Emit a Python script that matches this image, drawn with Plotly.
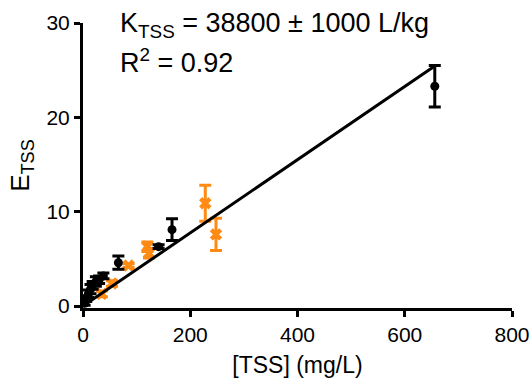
import plotly.graph_objects as go

# Black series (circles)
black_x = [3, 6, 10, 14, 18, 24, 30, 38, 66, 141, 166, 656]
black_y = [0.3, 0.8, 1.3, 1.8, 2.2, 2.6, 2.8, 3.2, 4.6, 6.3, 8.1, 23.3]
black_err = [0.2, 0.3, 0.4, 0.5, 0.4, 0.5, 0.4, 0.3, 0.7, 0.2, 1.15, 2.2]

# Orange series (crosses)
orange_x = [35, 54, 85, 120, 123, 228, 248]
orange_y = [1.3, 2.4, 4.3, 6.3, 5.6, 10.9, 7.6]
orange_err = [0.3, 0.3, 0.2, 0.5, 0.5, 1.9, 1.7]

# Linear fit through origin
slope = 0.0388
fit_x = [0, 656]
fit_y = [slope * v for v in fit_x]

x_ticks = [0, 200, 400, 600, 800]
y_ticks = [0, 10, 20, 30]

ORANGE = "#FF8A14"
FONT = "Liberation Sans, Arial, sans-serif"

fig = go.Figure()
fig.add_trace(go.Scatter(
    x=orange_x, y=orange_y, mode="markers",
    marker=dict(symbol="x", size=11, color=ORANGE),
    error_y=dict(type="data", array=orange_err, color=ORANGE, thickness=3, width=6),
    showlegend=False, cliponaxis=False))
fig.add_trace(go.Scatter(
    x=black_x, y=black_y, mode="markers",
    marker=dict(symbol="circle", size=9, color="black"),
    error_y=dict(type="data", array=black_err, color="black", thickness=3, width=6),
    showlegend=False, cliponaxis=False))
fig.add_trace(go.Scatter(
    x=fit_x, y=fit_y, mode="lines",
    line=dict(color="black", width=3), showlegend=False))

fig.add_annotation(x=66, y=29.8, xref="x", yref="y", xanchor="left", yanchor="middle",
                   text="K<sub>TSS</sub> = 38800 ± 1000 L/kg", showarrow=False,
                   font=dict(size=27, color="black", family=FONT))
fig.add_annotation(x=66, y=26.0, xref="x", yref="y", xanchor="left", yanchor="middle",
                   text="R<sup>2</sup> = 0.92", showarrow=False,
                   font=dict(size=27, color="black", family=FONT))

fig.update_layout(
    width=531, height=378,
    margin=dict(l=83, r=19, t=23, b=70),
    plot_bgcolor="white", paper_bgcolor="white",
    font=dict(family=FONT, color="black"),
    xaxis=dict(range=[0, 800], tickvals=x_ticks, showgrid=False, zeroline=False,
               showline=True, linecolor="black", linewidth=3, automargin=False,
               ticks="outside", ticklen=6, tickwidth=3, tickcolor="black",
               tickfont=dict(size=21),
               title=dict(text="[TSS] (mg/L)", font=dict(size=23), standoff=13)),
    yaxis=dict(range=[-0.2, 30], tickvals=y_ticks, showgrid=False, zeroline=False,
               showline=True, linecolor="black", linewidth=3, automargin=False,
               ticks="outside", ticklen=6, tickwidth=3, tickcolor="black",
               tickfont=dict(size=21),
               title=dict(text="E<sub>TSS</sub>", font=dict(size=26), standoff=10)),
)

fig.write_html("out.html", config={"displayModeBar": False},
               post_script="document.body.style.margin='0';document.body.style.padding='0';")
